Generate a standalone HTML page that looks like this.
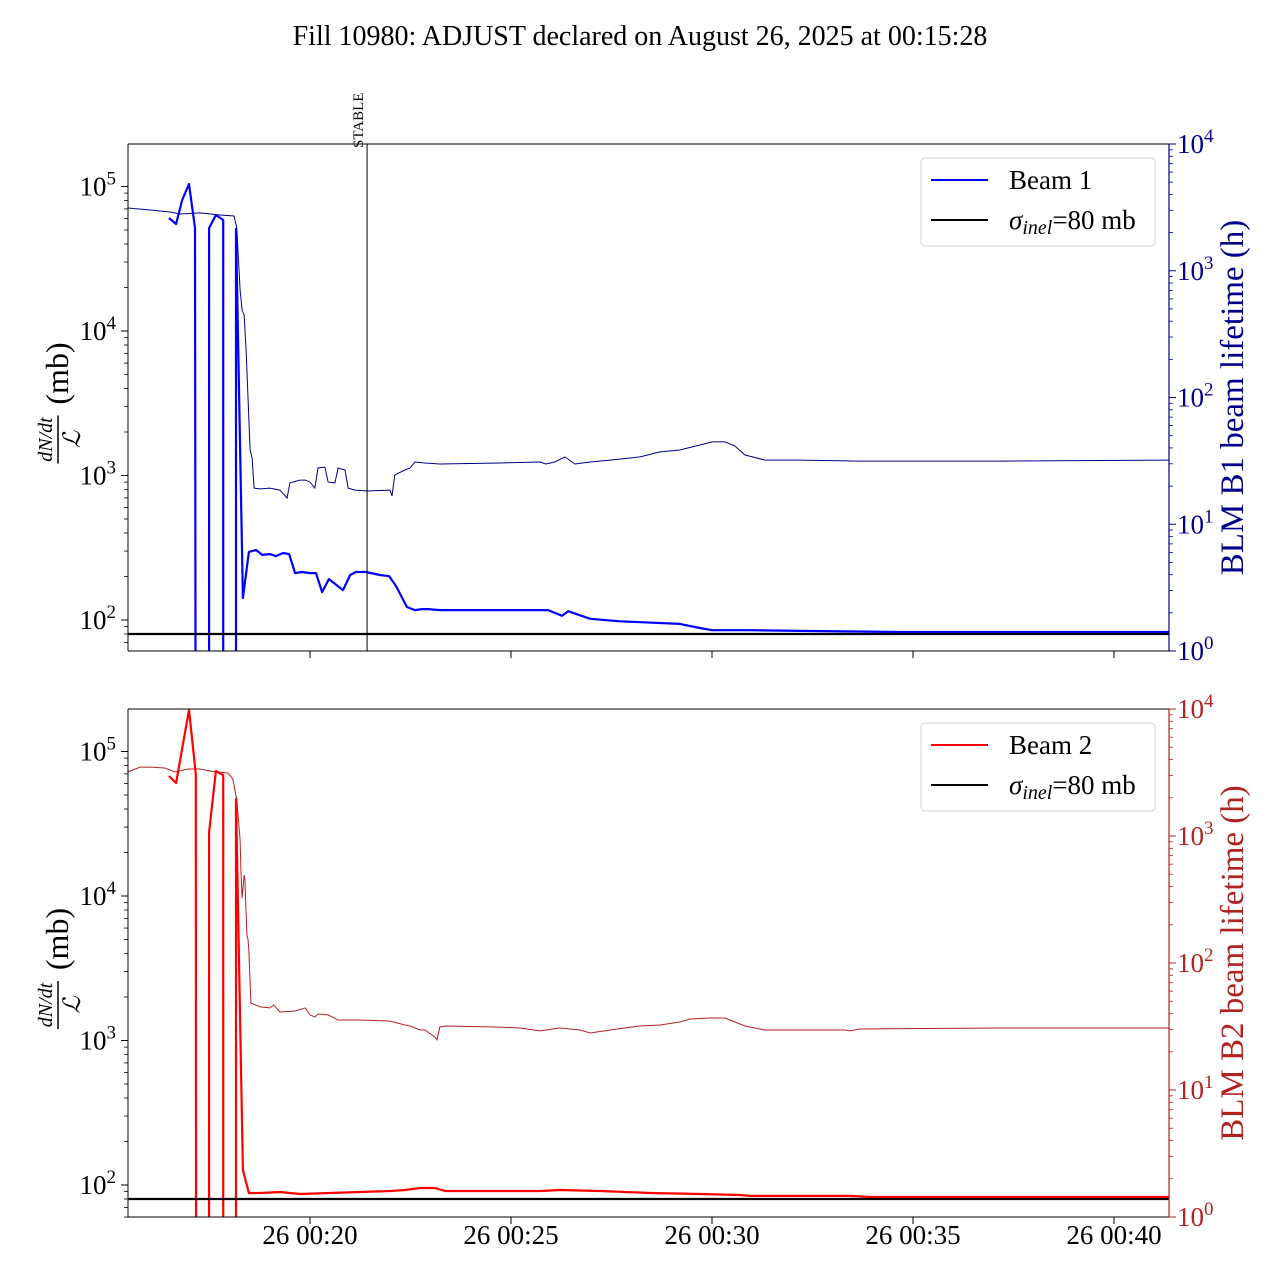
<!DOCTYPE html>
<html><head><meta charset="utf-8"><style>
html,body{margin:0;padding:0;background:#fff;width:1280px;height:1280px;overflow:hidden}
svg{display:block;font-family:"Liberation Serif",serif}
</style></head><body>
<svg id="chart" width="1280" height="1280" viewBox="0 0 1280 1280" xmlns="http://www.w3.org/2000/svg">
<text x="640" y="45" text-anchor="middle" font-size="28">Fill 10980: ADJUST declared on August 26, 2025 at 00:15:28</text>
</svg>
<script>
// time in minutes relative to 26 00:20
const xTicks = [0, 5, 10, 15, 20];
const xTickLabels = ["26 00:20", "26 00:25", "26 00:30", "26 00:35", "26 00:40"];
const stableTime = 1.42;
const sigmaInel = 80;

const b1LossT = [-3.51,-3.33,-3.18,-3.01,-2.86,-2.84,-2.51,-2.51,-2.34,-2.16,-2.16,-1.84,-1.84,-1.67,-1.52,-1.34,-1.19,-1.00,-0.85,-0.67,-0.52,-0.37,-0.20,0,0.15,0.30,0.47,0.82,1.00,1.14,1.39,1.74,1.97,2.14,2.41,2.61,2.79,2.94,3.23,4.73,5.92,6.27,6.42,6.97,7.71,9.20,9.70,10,10.95,12.19,14.68,21.37];
const b1LossV = [60500,55000,80700,104000,51600,1,1,51600,63500,58600,1,1,50900,142,296,305,282,286,277,291,286,211,215,211,211,156,192,161,205,215,215,205,201,172,123,117,119,119,117,117,117,107,115,102,98,94,88,85,85,84,82.6,82.6];

const b1LifeT = [-4.53,-3.98,-3.48,-3.23,-2.74,-2.24,-1.89,-1.82,-1.74,-1.69,-1.64,-1.59,-1.49,-1.44,-1.39,-1.24,-1.00,-0.75,-0.57,-0.50,-0.25,-0.12,0,0.12,0.20,0.37,0.45,0.62,0.70,0.87,0.95,1.12,1.42,1.99,2.04,2.11,2.36,2.49,2.61,2.86,3.23,4.73,5.72,5.87,6.09,6.34,6.59,6.97,7.46,8.21,8.71,9.20,9.70,10,10.32,10.57,10.82,11.32,12.19,13.68,17.16,21.37];
const b1LifeV = [3126,3013,2910,2805,2860,2755,2705,2175,705,490,448,237,38.5,33.3,19.3,19.0,19.3,18.6,16.1,21.2,22.3,22.3,21.5,19.3,27.8,28.3,21.5,21.2,27.8,26.8,19.3,18.6,18.3,18.6,16.7,24.5,26.8,27.8,31.0,30.4,29.9,30.4,31.0,29.9,31.0,34.0,29.9,31.0,32.1,34.0,37.2,38.5,42.2,44.6,44.6,41.4,35.2,32.1,32.1,31.5,31.5,32.1];

const b2LossT = [-3.51,-3.33,-3.01,-2.84,-2.83,-2.51,-2.51,-2.34,-2.16,-2.16,-1.84,-1.84,-1.67,-1.52,-1.24,-0.75,-0.25,0.50,2.00,2.36,2.74,3.11,3.36,5.72,6.22,7.21,8.46,9.70,10.70,10.95,13.43,13.93,21.37];
const b2LossV = [67600,60500,194000,69800,1,1,27700,73300,68700,1,1,46900,127,88,88,89.5,86.7,88,90.9,92.3,95.3,95.3,90.9,90.9,92.3,90.9,88,86.7,85.3,84,84,82.6,82.6];

const b2LifeT = [-4.53,-4.23,-3.98,-3.61,-3.36,-3.03,-2.74,-2.49,-2.04,-1.92,-1.82,-1.74,-1.72,-1.69,-1.64,-1.62,-1.57,-1.54,-1.52,-1.47,-1.24,-1.00,-0.90,-0.75,-0.37,-0.12,0,0.12,0.20,0.45,0.70,0.95,1.24,1.99,2.36,2.49,2.74,2.86,3.11,3.16,3.23,3.36,4.73,5.22,5.72,6.22,6.72,6.97,7.46,8.21,8.71,9.20,9.45,9.95,10.32,10.57,10.82,11.32,12.19,13.31,13.43,13.68,17.16,21.37];
const b2LifeV = [3190,3490,3490,3430,3190,3370,3370,3250,3130,2810,1920,931,540,325,493,451,166,152,122,48.4,45.1,44.3,46.7,41.1,41.9,44.3,39.0,37.6,39.7,39.0,35.6,35.6,35.6,34.9,32.5,31.9,29.7,29.7,26.1,24.8,31.3,31.9,31.3,30.8,29.2,30.8,29.7,28.1,29.7,31.9,32.5,34.3,36.2,36.9,36.9,34.3,31.9,29.7,29.7,29.7,29.2,30.2,30.8,30.8];

const NS = "http://www.w3.org/2000/svg";
const svg = document.getElementById("chart");
const X0 = 128, X1 = 1169;
const xs = t => 310 + t * 40.2;
function mk(tag, attrs, parent) {
  const e = document.createElementNS(NS, tag);
  for (const k in attrs) e.setAttribute(k, attrs[k]);
  (parent || svg).appendChild(e);
  return e;
}

function panel(p) {
  const top = p.top, bot = p.bot;
  const yl = v => p.y100 - (Math.log10(v) - 2) * 144.5;
  const yr = v => bot - Math.log10(v) * (bot - top) / 4;
  const g = mk("g", {});
  
  
  const cid = "clip" + p.idx;
  const cp = mk("clipPath", {id: cid}, g);
  mk("rect", {x: X0, y: top, width: X1 - X0, height: bot - top}, cp);
  const pl = mk("g", {"clip-path": "url(#" + cid + ")"}, g);
  const path = (T, V, sc) => T.map((t, i) => (i ? "L" : "M") + xs(t).toFixed(1) + " " + sc(V[i]).toFixed(1)).join(" ");
  const life = mk("path", {d: path(p.lifeT, p.lifeV, yr), fill: "none", stroke: p.lifeColor, "stroke-width": 1}, pl);
  
  
  const loss = mk("path", {d: path(p.lossT, p.lossV, yl), fill: "none", stroke: p.color, "stroke-width": 2.2, "stroke-linejoin": "round"}, pl);
  
  
  const sig = mk("line", {x1: X0, x2: X1, y1: yl(sigmaInel), y2: yl(sigmaInel), stroke: "#000", "stroke-width": 2.2}, pl);
  
  
  if (p.stable) {
    const sl = mk("line", {x1: xs(stableTime), x2: xs(stableTime), y1: top, y2: bot, stroke: "#000", "stroke-width": 1}, g);
    
    
    const st = mk("text", {x: 0, y: 0, "font-size": 15, transform: "translate(" + (xs(stableTime) - 4) + "," + (top + 4) + ") rotate(-90)"}, g);
    st.textContent = "STABLE";
    
    
  }
  mk("line", {x1: X0, x2: X1, y1: top, y2: top, stroke: "#000", "stroke-width": 1}, g);
  mk("line", {x1: X0, x2: X1, y1: bot, y2: bot, stroke: "#000", "stroke-width": 1}, g);
  mk("line", {x1: X0, x2: X0, y1: top, y2: bot, stroke: "#000", "stroke-width": 1}, g);
  mk("line", {x1: X1, x2: X1, y1: top, y2: bot, stroke: p.lifeColor, "stroke-width": 1.2}, g);
  for (let d = 1; d <= 6; d++) {
    for (let m = 1; m <= 9; m++) {
      const v = m * Math.pow(10, d);
      const y = yl(v);
      if (y < top - 0.5 || y > bot + 0.5) continue;
      mk("line", {x1: X0, x2: X0 - (m === 1 ? 7 : 4), y1: y, y2: y, stroke: "#000", "stroke-width": m === 1 ? 1 : 0.8}, g);
      if (m === 1) {
        const t = mk("text", {x: X0 - 12, y: y + 9, "text-anchor": "end", "font-size": 27}, g);
        t.innerHTML = '10<tspan dy="-11" font-size="19">' + d + '</tspan>';
        
        
      }
    }
  }
  for (let d = 0; d <= 4; d++) {
    for (let m = 1; m <= 9; m++) {
      const v = m * Math.pow(10, d);
      const y = yr(v);
      if (y < top - 0.5 || y > bot + 0.5) continue;
      mk("line", {x1: X1, x2: X1 + (m === 1 ? 7 : 4), y1: y, y2: y, stroke: p.lifeColor, "stroke-width": m === 1 ? 1 : 0.8}, g);
      if (m === 1) {
        const t = mk("text", {x: X1 + 8, y: y + 9, "font-size": 27, fill: p.lifeColor}, g);
        t.innerHTML = '10<tspan dy="-11" font-size="19">' + d + '</tspan>';
        
        
      }
    }
  }
  xTicks.forEach((t, i) => {
    mk("line", {x1: xs(t), x2: xs(t), y1: bot, y2: bot + 7, stroke: "#000", "stroke-width": 1}, g);
    if (p.xlabels) {
      const tx = mk("text", {x: xs(t), y: bot + 27, "text-anchor": "middle", "font-size": 27}, g);
      tx.textContent = xTickLabels[i];
      
      
    }
  });
  const cy = (top + bot) / 2;
  const lg = mk("g", {transform: "translate(62," + (cy + 6) + ") rotate(-90)"}, g);
  
  
  mk("text", {x: -36, y: -10, "font-size": 20, "font-style": "italic", "text-anchor": "middle"}, lg).textContent = "dN/dt";
  mk("line", {x1: -60, x2: -12, y1: -4, y2: -4, stroke: "#000", "stroke-width": 1.5}, lg);
  mk("text", {x: -36, y: 18, "font-size": 24, "font-style": "italic", "text-anchor": "middle"}, lg).textContent = "\u2112";
  mk("text", {x: 30, y: 6, "font-size": 32, "text-anchor": "middle"}, lg).textContent = "(mb)";
  const rt = mk("text", {x: 0, y: 0, "font-size": 33, fill: p.lifeColor, "text-anchor": "middle", transform: "translate(1243," + cy + ") rotate(-90)"}, g);
  rt.textContent = p.rightTitle;
  
  
  const lgd = mk("g", {}, g);
  
  
  const ly = top + 14;
  mk("rect", {x: 921, y: ly, width: 234, height: 88, rx: 4, fill: "#fff", "fill-opacity": 0.8, stroke: "#d0d0d0", "stroke-width": 1}, lgd);
  mk("line", {x1: 931, x2: 988, y1: ly + 22, y2: ly + 22, stroke: p.color, "stroke-width": 2}, lgd);
  const e1 = mk("text", {x: 1009, y: ly + 31, "font-size": 27}, lgd);
  e1.textContent = p.beam;
  
  
  mk("line", {x1: 931, x2: 988, y1: ly + 62, y2: ly + 62, stroke: "#000", "stroke-width": 2}, lgd);
  const e2 = mk("text", {x: 1009, y: ly + 71, "font-size": 27}, lgd);
  e2.innerHTML = '<tspan font-style="italic">\u03C3</tspan><tspan font-style="italic" font-size="20" dy="5">inel</tspan><tspan dy="-5">=80 mb</tspan>';
  
  
}

panel({idx: 1, name: "beam1-panel", top: 144, bot: 651, y100: 620, color: "#0000ff", lifeColor: "#00008b",
  lossT: b1LossT, lossV: b1LossV, lifeT: b1LifeT, lifeV: b1LifeV, lossName: "beam1-loss-line", lifeName: "beam1-lifetime-line",
  stable: true, xlabels: false, rightTitle: "BLM B1 beam lifetime (h)", beam: "Beam 1"});
panel({idx: 2, name: "beam2-panel", top: 709, bot: 1217, y100: 1185, color: "#ff0000", lifeColor: "#b22222",
  lossT: b2LossT, lossV: b2LossV, lifeT: b2LifeT, lifeV: b2LifeV, lossName: "beam2-loss-line", lifeName: "beam2-lifetime-line",
  stable: false, xlabels: true, rightTitle: "BLM B2 beam lifetime (h)", beam: "Beam 2"});
</script>
</body></html>
